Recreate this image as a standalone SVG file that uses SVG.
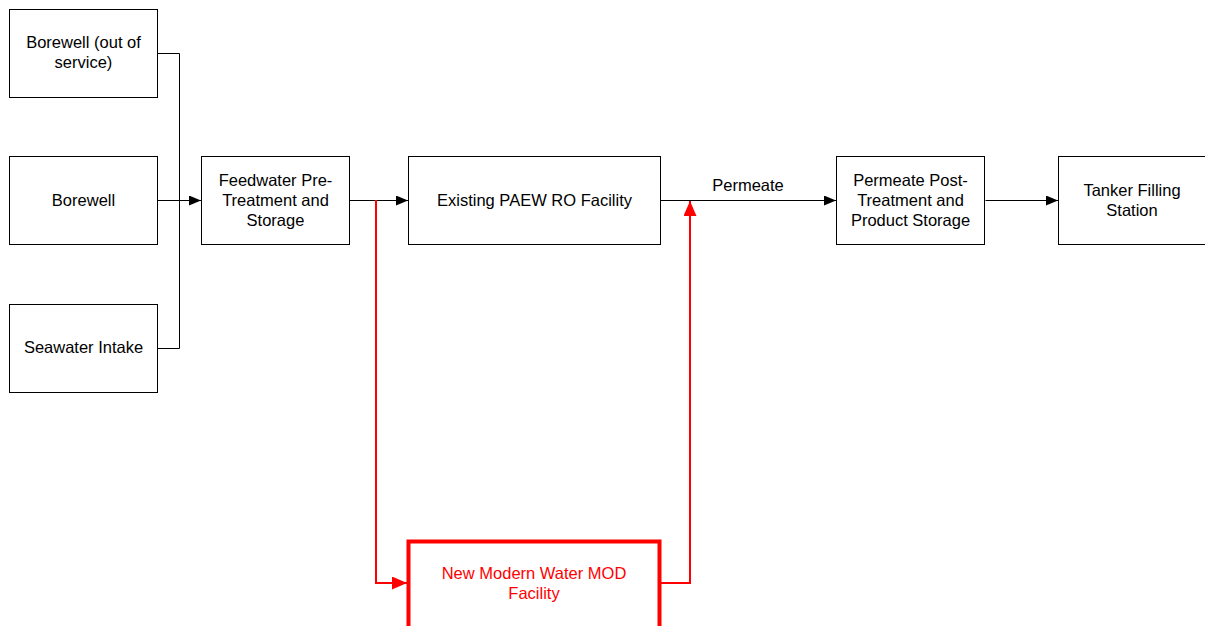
<svg xmlns="http://www.w3.org/2000/svg" width="1205" height="626" viewBox="0 0 1205 626">
<style>
.box{fill:#fff;stroke:#000;stroke-width:1}
.t{font-family:"Liberation Sans",Arial,sans-serif;font-size:16.5px;fill:#000;text-anchor:middle}
.red .t{fill:#f00}
.c{fill:none;stroke:#000;stroke-width:1}
.r{fill:none;stroke:#f00;stroke-width:2}
</style>
<defs>
<marker id="ab" markerWidth="12" markerHeight="10" refX="12" refY="5" orient="auto" markerUnits="userSpaceOnUse"><path d="M0,0 L12,5 L0,10 Z" fill="#000"/></marker>
<marker id="ar" markerWidth="15" markerHeight="13" refX="15" refY="6.5" orient="auto" markerUnits="userSpaceOnUse"><path d="M0,0 L15,6.5 L0,13 Z" fill="#f00"/></marker>
</defs>
<rect width="1205" height="626" fill="#fff"/>
<g id="connectors">
<path class="c" d="M157.5,53.5 H179.5 V348.5 H157.5"/>
<path class="c" d="M157.5,200.5 H201" marker-end="url(#ab)"/>
<path class="c" d="M349.5,200.5 H408" marker-end="url(#ab)"/>
<path class="c" d="M660.5,200.5 H836" marker-end="url(#ab)"/>
<text class="t" x="748" y="191">Permeate</text>
<path class="c" d="M985.5,200.5 H1058" marker-end="url(#ab)" stroke="#333"/>
<path class="r" d="M376,200 V583 H407" marker-end="url(#ar)"/>
<path class="r" d="M661,583 H690 V201" marker-end="url(#ar)"/>
</g>
<g id="n1"><rect class="box" x="9.5" y="9.5" width="148" height="88"/><text class="t" x="83.5" y="48">Borewell (out of</text><text class="t" x="83.5" y="68">service)</text></g>
<g id="n2"><rect class="box" x="9.5" y="156.5" width="148" height="88"/><text class="t" x="83.5" y="206">Borewell</text></g>
<g id="n3"><rect class="box" x="9.5" y="304.5" width="148" height="88"/><text class="t" x="83.5" y="353">Seawater Intake</text></g>
<g id="n4"><rect class="box" x="201.5" y="156.5" width="148" height="88"/><text class="t" x="275.5" y="186">Feedwater Pre-</text><text class="t" x="275.5" y="206">Treatment and</text><text class="t" x="275.5" y="226">Storage</text></g>
<g id="n5"><rect class="box" x="408.5" y="156.5" width="252" height="88"/><text class="t" x="534.5" y="206">Existing PAEW RO Facility</text></g>
<g id="n6"><rect class="box" x="836.5" y="156.5" width="148" height="88"/><text class="t" x="910.5" y="186">Permeate Post-</text><text class="t" x="910.5" y="206">Treatment and</text><text class="t" x="910.5" y="226">Product Storage</text></g>
<g id="n7"><rect class="box" x="1058.5" y="156.5" width="160" height="88"/><text class="t" x="1132" y="196">Tanker Filling</text><text class="t" x="1132" y="216">Station</text></g>
<g id="n8" class="red"><rect x="408.5" y="541.5" width="251" height="100" fill="#fff" stroke="#f00" stroke-width="4"/><text class="t" x="534" y="579">New Modern Water MOD</text><text class="t" x="534" y="599">Facility</text></g>
</svg>
